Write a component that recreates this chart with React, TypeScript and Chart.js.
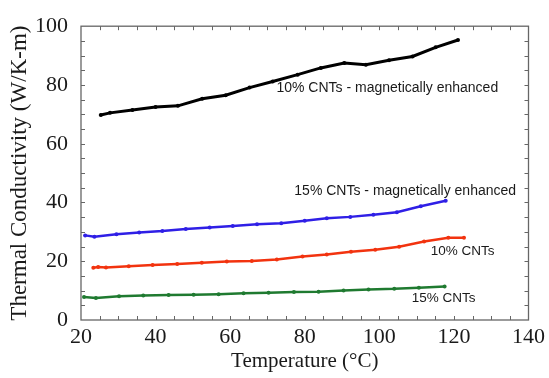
import React, { useEffect, useRef } from "react";
import { Chart, registerables } from "chart.js";

Chart.register(...registerables);

// ---- data (Temperature °C, Thermal conductivity W/K-m) ----
const black10MagT = [25.3, 27.8, 33.8, 40.0, 46.0, 52.5, 58.8, 65.2, 71.4, 78.1, 84.3, 90.6, 96.4, 102.6, 108.9, 115.1, 121.1];
const black10MagK = [69.8, 70.5, 71.5, 72.5, 72.9, 75.3, 76.5, 79.1, 81.2, 83.5, 85.8, 87.5, 86.9, 88.4, 89.7, 92.8, 95.3];

const blue15MagT = [21.1, 23.6, 29.5, 35.6, 41.8, 48.1, 54.5, 60.7, 67.2, 73.7, 80.0, 85.9, 92.2, 98.4, 104.7, 111.1, 117.8];
const blue15MagK = [28.8, 28.3, 29.2, 29.8, 30.3, 31.0, 31.5, 32.0, 32.6, 32.9, 33.8, 34.6, 35.1, 35.8, 36.7, 38.7, 40.6];

const red10T = [23.3, 24.6, 26.7, 32.8, 39.2, 45.8, 52.4, 59.1, 65.8, 72.5, 79.4, 85.9, 92.4, 98.9, 105.3, 112.0, 118.5, 122.7];
const red10K = [17.8, 18.0, 17.9, 18.3, 18.7, 19.1, 19.5, 19.9, 20.1, 20.6, 21.6, 22.3, 23.2, 23.9, 24.9, 26.7, 28.0, 28.0];

const green15T = [20.8, 24.0, 30.2, 36.7, 43.5, 50.2, 56.9, 63.6, 70.3, 77.1, 83.7, 90.4, 97.1, 104.0, 110.6, 117.5];
const green15K = [7.8, 7.5, 8.1, 8.3, 8.5, 8.6, 8.8, 9.1, 9.3, 9.5, 9.6, 10.0, 10.4, 10.6, 11.0, 11.4];

const seriesNames = [
  "10% CNTs - magnetically enhanced",
  "15% CNTs - magnetically enhanced",
  "10% CNTs",
  "15% CNTs",
];

const xTitle = "Temperature (°C)";
const yTitle = "Thermal Conductivity (W/K-m)";

const zip = (xs: number[], ys: number[]) => xs.map((x, i) => ({ x, y: ys[i] }));

// annotation anchors in data units (left edge, vertical centre)
const labelAnchors = [
  { x: 72.4, y: 78.9, size: 14 },
  { x: 77.2, y: 44.0, size: 14 },
  { x: 113.8, y: 23.5, size: 13.5 },
  { x: 108.7, y: 7.4, size: 13.5 },
];

const framePlugin = {
  id: "frameTicks",
  afterDatasetsDraw(chart: any) {
    const { ctx, chartArea, scales } = chart;
    const xs = scales.x;
    const ys = scales.y;
    const { left, right, top, bottom } = chartArea;
    ctx.save();
    ctx.strokeStyle = "#666";
    ctx.lineWidth = 1.3;
    ctx.strokeRect(left, top, right - left, bottom - top);
    ctx.lineWidth = 1;
    ctx.beginPath();
    const tl = 4;
    for (let v = 25; v < 140; v += 5) {
      const px = Math.round(xs.getPixelForValue(v)) + 0.5;
      ctx.moveTo(px, bottom);
      ctx.lineTo(px, bottom - tl);
      ctx.moveTo(px, top);
      ctx.lineTo(px, top + tl);
    }
    for (let v = 5; v < 100; v += 5) {
      const py = Math.round(ys.getPixelForValue(v)) + 0.5;
      ctx.moveTo(left, py);
      ctx.lineTo(left + tl, py);
      ctx.moveTo(right, py);
      ctx.lineTo(right - tl, py);
    }
    ctx.stroke();

    ctx.fillStyle = "#1a1a1a";
    ctx.textBaseline = "middle";
    ctx.textAlign = "left";
    labelAnchors.forEach((a, i) => {
      ctx.font = `${a.size}px "Liberation Sans", Arial, sans-serif`;
      ctx.fillText(seriesNames[i], xs.getPixelForValue(a.x), ys.getPixelForValue(a.y));
    });
    ctx.restore();
  },
};

export default function App() {
  const ref = useRef<HTMLCanvasElement | null>(null);
  useEffect(() => {
    document.body.style.margin = "0";
    const canvas = ref.current!;
    const mk = (label: string, data: any[], color: string, w: number) => ({
      label,
      data,
      borderColor: color,
      backgroundColor: color,
      borderWidth: w,
      pointRadius: 2,
      pointHoverRadius: 2,
      pointBorderWidth: 0,
      tension: 0,
      fill: false,
    });
    const chart = new Chart(canvas, {
      type: "line",
      data: {
        datasets: [
          mk(seriesNames[0], zip(black10MagT, black10MagK), "#000000", 3),
          mk(seriesNames[1], zip(blue15MagT, blue15MagK), "#2f1fe6", 2.5),
          mk(seriesNames[2], zip(red10T, red10K), "#f2330f", 2.5),
          mk(seriesNames[3], zip(green15T, green15K), "#1f7a30", 2.5),
        ],
      },
      options: {
        animation: false,
        responsive: false,
        layout: { padding: { left: 0, top: 22, right: 19, bottom: 0 } },
        plugins: { legend: { display: false }, tooltip: { enabled: false } },
        scales: {
          x: {
            type: "linear",
            min: 20,
            max: 140,
            grid: { display: false, drawTicks: false },
            border: { display: false },
            ticks: {
              stepSize: 20,
              padding: 4,
              color: "#1a1a1a",
              font: { family: '"Liberation Serif", "Times New Roman", serif', size: 22 },
              maxRotation: 0,
            },
            title: {
              display: true,
              text: xTitle,
              color: "#1a1a1a",
              font: { family: '"Liberation Serif", "Times New Roman", serif', size: 21 },
              padding: { top: 0, bottom: 4 },
            },
            afterFit: (s: any) => {
              s.height = 58;
            },
          },
          y: {
            type: "linear",
            min: 0,
            max: 100,
            grid: { display: false, drawTicks: false },
            border: { display: false },
            ticks: {
              stepSize: 20,
              padding: 13,
              color: "#1a1a1a",
              font: { family: '"Liberation Serif", "Times New Roman", serif', size: 22 },
            },
            title: {
              display: true,
              text: yTitle,
              color: "#1a1a1a",
              font: { family: '"Liberation Serif", "Times New Roman", serif', size: 23 },
              padding: { top: 6, bottom: 0 },
            },
            afterFit: (s: any) => {
              s.width = 81;
            },
          },
        },
      },
      plugins: [framePlugin],
    });
    return () => chart.destroy();
  }, []);
  return <canvas ref={ref} width={549} height={378} style={{ display: "block" }} />;
}
